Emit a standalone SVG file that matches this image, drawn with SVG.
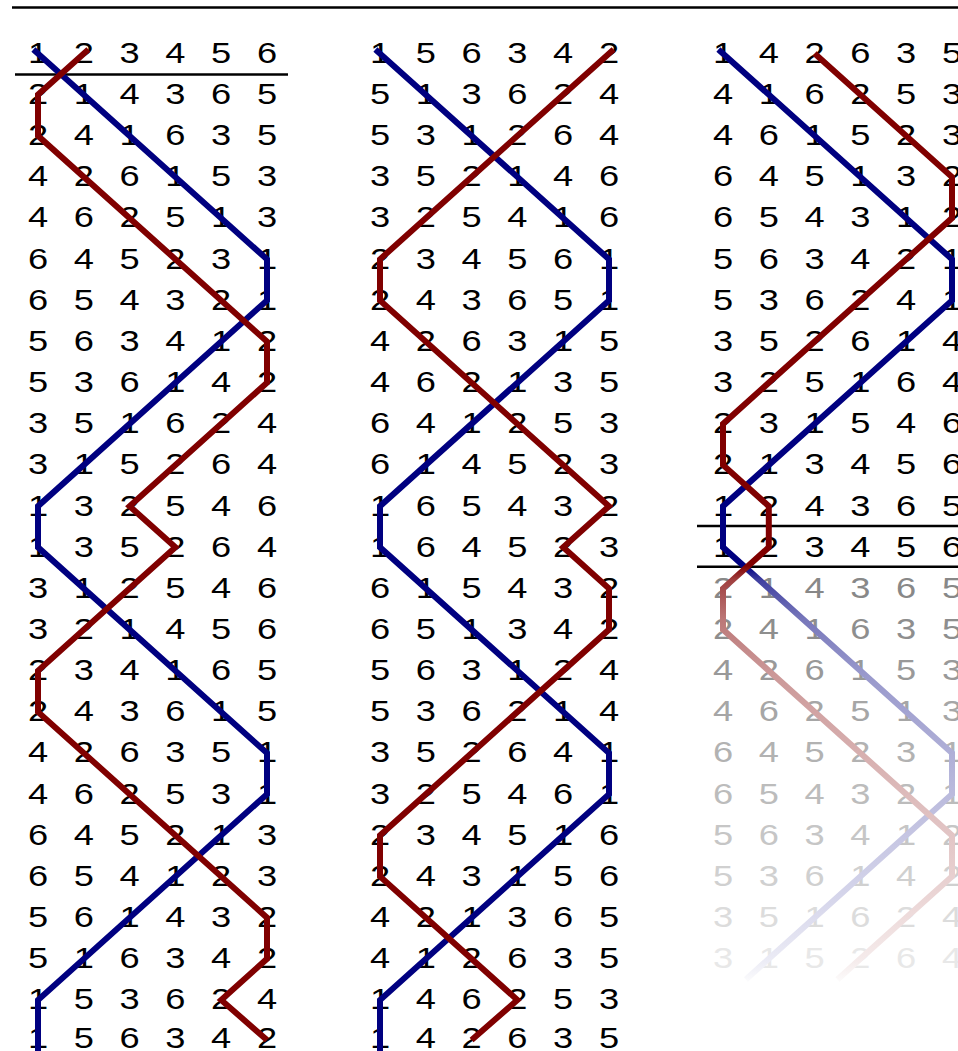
<svg xmlns="http://www.w3.org/2000/svg" width="958" height="1051" viewBox="0 0 958 1051">
<style>
.d{font-family:"Liberation Sans",Arial,sans-serif;font-size:29px;text-anchor:middle;fill:#000}
.rule{stroke:#000;stroke-width:2.5;fill:none}
.ln{fill:none;stroke-width:6;stroke-linejoin:miter;stroke-miterlimit:6;stroke-linecap:butt}
.bl{stroke:#000080}
.rd{stroke:#800000}
</style>
<defs>
<linearGradient id="fadeBlue" gradientUnits="userSpaceOnUse" x1="0" y1="0" x2="0" y2="1051">
<stop offset="0" stop-color="#000080"/>
<stop offset="0.5385" stop-color="#000080"/>
<stop offset="0.5519" stop-color="#4040a0"/>
<stop offset="0.5899" stop-color="#7878bb"/>
<stop offset="0.6422" stop-color="#9999cc"/>
<stop offset="0.7707" stop-color="#bfbfdf"/>
<stop offset="0.8563" stop-color="#d6d6eb"/>
<stop offset="0.9134" stop-color="#ebebf5"/>
<stop offset="0.9324" stop-color="#fafafc"/>
<stop offset="1" stop-color="#ffffff"/>
</linearGradient>
<linearGradient id="fadeRed" gradientUnits="userSpaceOnUse" x1="0" y1="0" x2="0" y2="1051">
<stop offset="0" stop-color="#800000"/>
<stop offset="0.5385" stop-color="#800000"/>
<stop offset="0.5519" stop-color="#a04040"/>
<stop offset="0.5899" stop-color="#bc7878"/>
<stop offset="0.6422" stop-color="#cc9999"/>
<stop offset="0.7707" stop-color="#dfbfbf"/>
<stop offset="0.8563" stop-color="#ebd6d6"/>
<stop offset="0.9134" stop-color="#f5ebeb"/>
<stop offset="0.9324" stop-color="#fcfafa"/>
<stop offset="1" stop-color="#ffffff"/>
</linearGradient>
</defs>
<rect width="958" height="1051" fill="#fff"/>
<g id="rules">
<line class="rule" x1="12" y1="7.5" x2="958" y2="7.5"/>
<line class="rule" x1="15" y1="74.5" x2="288" y2="74.5"/>
<line class="rule" x1="697" y1="526" x2="958" y2="526"/>
<line class="rule" x1="697" y1="566.7" x2="958" y2="566.7"/>
</g>
<g id="col1" transform="scale(1.25 1)">
<text id="c1r1" class="d" x="30.4 67.04 103.68 140.32 176.96 213.6" y="62.9">123456</text>
<text id="c1r2" class="d" x="30.4 67.04 103.68 140.32 176.96 213.6" y="104.1">214365</text>
<text id="c1r3" class="d" x="30.4 67.04 103.68 140.32 176.96 213.6" y="145.2">241635</text>
<text id="c1r4" class="d" x="30.4 67.04 103.68 140.32 176.96 213.6" y="186.4">426153</text>
<text id="c1r5" class="d" x="30.4 67.04 103.68 140.32 176.96 213.6" y="227.5">462513</text>
<text id="c1r6" class="d" x="30.4 67.04 103.68 140.32 176.96 213.6" y="268.7">645231</text>
<text id="c1r7" class="d" x="30.4 67.04 103.68 140.32 176.96 213.6" y="309.8">654321</text>
<text id="c1r8" class="d" x="30.4 67.04 103.68 140.32 176.96 213.6" y="351">563412</text>
<text id="c1r9" class="d" x="30.4 67.04 103.68 140.32 176.96 213.6" y="392.1">536142</text>
<text id="c1r10" class="d" x="30.4 67.04 103.68 140.32 176.96 213.6" y="433.3">351624</text>
<text id="c1r11" class="d" x="30.4 67.04 103.68 140.32 176.96 213.6" y="474.4">315264</text>
<text id="c1r12" class="d" x="30.4 67.04 103.68 140.32 176.96 213.6" y="515.6">132546</text>
<text id="c1r13" class="d" x="30.4 67.04 103.68 140.32 176.96 213.6" y="556.7">135264</text>
<text id="c1r14" class="d" x="30.4 67.04 103.68 140.32 176.96 213.6" y="597.9">312546</text>
<text id="c1r15" class="d" x="30.4 67.04 103.68 140.32 176.96 213.6" y="639">321456</text>
<text id="c1r16" class="d" x="30.4 67.04 103.68 140.32 176.96 213.6" y="680.2">234165</text>
<text id="c1r17" class="d" x="30.4 67.04 103.68 140.32 176.96 213.6" y="721.3">243615</text>
<text id="c1r18" class="d" x="30.4 67.04 103.68 140.32 176.96 213.6" y="762.5">426351</text>
<text id="c1r19" class="d" x="30.4 67.04 103.68 140.32 176.96 213.6" y="803.6">462531</text>
<text id="c1r20" class="d" x="30.4 67.04 103.68 140.32 176.96 213.6" y="844.8">645213</text>
<text id="c1r21" class="d" x="30.4 67.04 103.68 140.32 176.96 213.6" y="885.9">654123</text>
<text id="c1r22" class="d" x="30.4 67.04 103.68 140.32 176.96 213.6" y="927.1">561432</text>
<text id="c1r23" class="d" x="30.4 67.04 103.68 140.32 176.96 213.6" y="968.2">516342</text>
<text id="c1r24" class="d" x="30.4 67.04 103.68 140.32 176.96 213.6" y="1009.4">153624</text>
<text id="c1r25" class="d" x="30.4 67.04 103.68 140.32 176.96 213.6" y="1048.4">156342</text>
</g>
<g id="col2" transform="scale(1.25 1)">
<text id="c2r1" class="d" x="304 340.64 377.28 413.92 450.56 487.2" y="62.9">156342</text>
<text id="c2r2" class="d" x="304 340.64 377.28 413.92 450.56 487.2" y="104.1">513624</text>
<text id="c2r3" class="d" x="304 340.64 377.28 413.92 450.56 487.2" y="145.2">531264</text>
<text id="c2r4" class="d" x="304 340.64 377.28 413.92 450.56 487.2" y="186.4">352146</text>
<text id="c2r5" class="d" x="304 340.64 377.28 413.92 450.56 487.2" y="227.5">325416</text>
<text id="c2r6" class="d" x="304 340.64 377.28 413.92 450.56 487.2" y="268.7">234561</text>
<text id="c2r7" class="d" x="304 340.64 377.28 413.92 450.56 487.2" y="309.8">243651</text>
<text id="c2r8" class="d" x="304 340.64 377.28 413.92 450.56 487.2" y="351">426315</text>
<text id="c2r9" class="d" x="304 340.64 377.28 413.92 450.56 487.2" y="392.1">462135</text>
<text id="c2r10" class="d" x="304 340.64 377.28 413.92 450.56 487.2" y="433.3">641253</text>
<text id="c2r11" class="d" x="304 340.64 377.28 413.92 450.56 487.2" y="474.4">614523</text>
<text id="c2r12" class="d" x="304 340.64 377.28 413.92 450.56 487.2" y="515.6">165432</text>
<text id="c2r13" class="d" x="304 340.64 377.28 413.92 450.56 487.2" y="556.7">164523</text>
<text id="c2r14" class="d" x="304 340.64 377.28 413.92 450.56 487.2" y="597.9">615432</text>
<text id="c2r15" class="d" x="304 340.64 377.28 413.92 450.56 487.2" y="639">651342</text>
<text id="c2r16" class="d" x="304 340.64 377.28 413.92 450.56 487.2" y="680.2">563124</text>
<text id="c2r17" class="d" x="304 340.64 377.28 413.92 450.56 487.2" y="721.3">536214</text>
<text id="c2r18" class="d" x="304 340.64 377.28 413.92 450.56 487.2" y="762.5">352641</text>
<text id="c2r19" class="d" x="304 340.64 377.28 413.92 450.56 487.2" y="803.6">325461</text>
<text id="c2r20" class="d" x="304 340.64 377.28 413.92 450.56 487.2" y="844.8">234516</text>
<text id="c2r21" class="d" x="304 340.64 377.28 413.92 450.56 487.2" y="885.9">243156</text>
<text id="c2r22" class="d" x="304 340.64 377.28 413.92 450.56 487.2" y="927.1">421365</text>
<text id="c2r23" class="d" x="304 340.64 377.28 413.92 450.56 487.2" y="968.2">412635</text>
<text id="c2r24" class="d" x="304 340.64 377.28 413.92 450.56 487.2" y="1009.4">146253</text>
<text id="c2r25" class="d" x="304 340.64 377.28 413.92 450.56 487.2" y="1048.4">142635</text>
</g>
<g id="col3" transform="scale(1.25 1)">
<text id="c3r1" class="d" x="578.4 615.04 651.68 688.32 724.96 761.6" y="62.9">142635</text>
<text id="c3r2" class="d" x="578.4 615.04 651.68 688.32 724.96 761.6" y="104.1">416253</text>
<text id="c3r3" class="d" x="578.4 615.04 651.68 688.32 724.96 761.6" y="145.2">461523</text>
<text id="c3r4" class="d" x="578.4 615.04 651.68 688.32 724.96 761.6" y="186.4">645132</text>
<text id="c3r5" class="d" x="578.4 615.04 651.68 688.32 724.96 761.6" y="227.5">654312</text>
<text id="c3r6" class="d" x="578.4 615.04 651.68 688.32 724.96 761.6" y="268.7">563421</text>
<text id="c3r7" class="d" x="578.4 615.04 651.68 688.32 724.96 761.6" y="309.8">536241</text>
<text id="c3r8" class="d" x="578.4 615.04 651.68 688.32 724.96 761.6" y="351">352614</text>
<text id="c3r9" class="d" x="578.4 615.04 651.68 688.32 724.96 761.6" y="392.1">325164</text>
<text id="c3r10" class="d" x="578.4 615.04 651.68 688.32 724.96 761.6" y="433.3">231546</text>
<text id="c3r11" class="d" x="578.4 615.04 651.68 688.32 724.96 761.6" y="474.4">213456</text>
<text id="c3r12" class="d" x="578.4 615.04 651.68 688.32 724.96 761.6" y="515.6">124365</text>
<text id="c3r13" class="d" x="578.4 615.04 651.68 688.32 724.96 761.6" y="556.7">123456</text>
<text id="c3r14" class="d" fill="#888888" style="fill:#888888" x="578.4 615.04 651.68 688.32 724.96 761.6" y="597.9">214365</text>
<text id="c3r15" class="d" style="fill:#8e8e8e" x="578.4 615.04 651.68 688.32 724.96 761.6" y="639">241635</text>
<text id="c3r16" class="d" style="fill:#999999" x="578.4 615.04 651.68 688.32 724.96 761.6" y="680.2">426153</text>
<text id="c3r17" class="d" style="fill:#a6a6a6" x="578.4 615.04 651.68 688.32 724.96 761.6" y="721.3">462513</text>
<text id="c3r18" class="d" style="fill:#b2b2b2" x="578.4 615.04 651.68 688.32 724.96 761.6" y="762.5">645231</text>
<text id="c3r19" class="d" style="fill:#bcbcbc" x="578.4 615.04 651.68 688.32 724.96 761.6" y="803.6">654321</text>
<text id="c3r20" class="d" style="fill:#c6c6c6" x="578.4 615.04 651.68 688.32 724.96 761.6" y="844.8">563412</text>
<text id="c3r21" class="d" style="fill:#d0d0d0" x="578.4 615.04 651.68 688.32 724.96 761.6" y="885.9">536142</text>
<text id="c3r22" class="d" style="fill:#dcdcdc" x="578.4 615.04 651.68 688.32 724.96 761.6" y="927.1">351624</text>
<text id="c3r23" class="d" style="fill:#e8e8e8" x="578.4 615.04 651.68 688.32 724.96 761.6" y="968.2">315264</text>
</g>
<g id="connectors">
<path id="c1blue" class="ln bl" d="M33.4,49.4 L267,259.3 L267,300.4 L38,506.2 L38,547.3 L267,753.1 L267,794.2 L38,1000 L38,1056"/>
<path id="c2blue" class="ln bl" d="M375.4,49.4 L609,259.3 L609,300.4 L380,506.2 L380,547.3 L609,753.1 L609,794.2 L380,1000 L380,1056"/>
<path id="c3blue" class="ln" stroke="url(#fadeBlue)" d="M718.4,49.4 L952,259.3 L952,300.4 L723,506.2 L723,547.3 L952,753.1 L952,794.2 L768.8,958.8 L745.9,979.4"/>
<path id="c1red" class="ln rd" d="M88.4,49.4 L38,94.7 L38,135.8 L267,341.6 L267,382.7 L129.6,506.2 L175.4,547.3 L38,670.8 L38,711.9 L267,917.7 L267,958.8 L221.2,1000 L267,1040"/>
<path id="c2red" class="ln rd" d="M613.6,49.4 L380,259.3 L380,300.4 L609,506.2 L563.2,547.3 L609,588.5 L609,629.6 L380,835.4 L380,876.5 L517.4,1000 L471.6,1040"/>
<path id="c3red" class="ln" stroke="url(#fadeRed)" d="M814.6,53.5 L952,177 L952,218.1 L723,423.9 L723,465 L768.8,506.2 L768.8,547.3 L723,588.5 L723,629.6 L952,835.4 L952,876.5 L860.4,958.8 L837.5,979.4"/>
</g>
</svg>
